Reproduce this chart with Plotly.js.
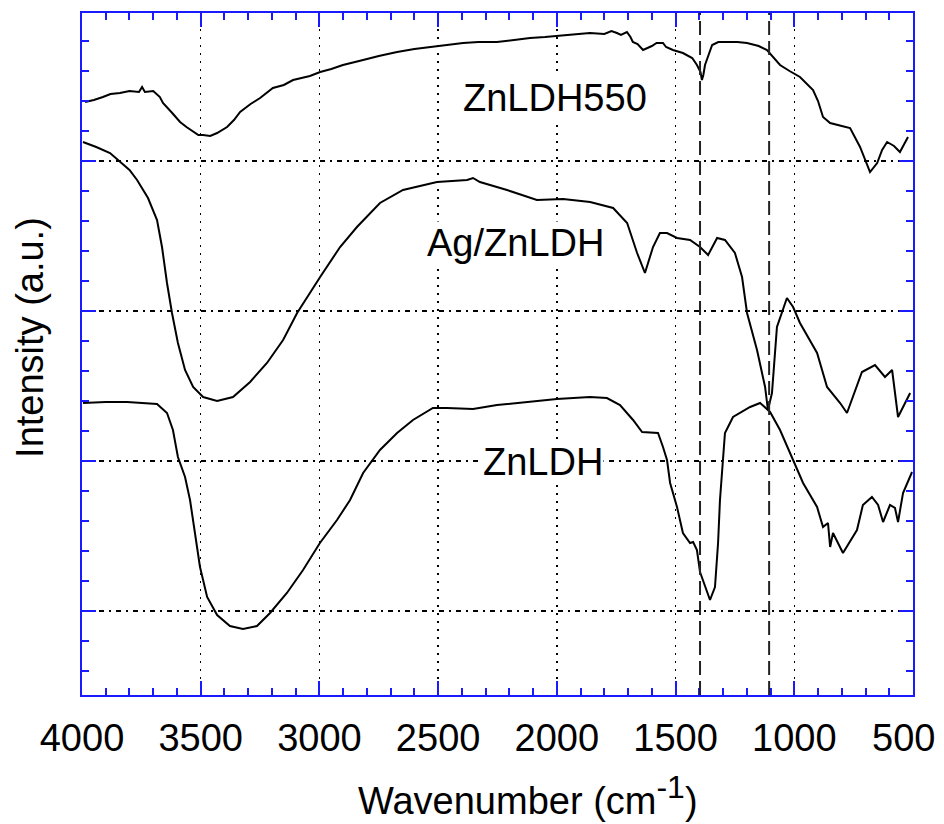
<!DOCTYPE html>
<html>
<head>
<meta charset="utf-8">
<script src="https://cdn.plot.ly/plotly-3.0.1.min.js"></script>
<style>html,body{margin:0;padding:0;background:#fff;}#chart{width:944px;height:824px;}</style>
</head>
<body>
<div id="chart"></div>
<script>
// ZnLDH550 (top spectrum)
const wnZnLDH550 = [3987,3950,3912,3880,3840,3800,3760,3747,3735,3700,3672,3659,3620,3587,3560,3532,3510,3490,3460,3431,3389,3360,3334,3290,3250,3196,3150,3111,3040,2997,2950,2901,2842,2816,2750,2673,2600,2505,2450,2395,2330,2252,2180,2113,2050,2000,1930,1861,1800,1770,1747,1730,1705,1690,1680,1660,1637,1600,1580,1553,1540,1511,1469,1430,1410,1395,1389,1383,1376,1346,1320,1283,1240,1199,1150,1115,1060,1020,976,921,900,879,849,800,765,723,681,651,630,609,580,555,535,521];
const intZnLDH550 = [5.93,5.95,5.98,6.01,6.02,6.04,6.03,6.08,6.03,6.04,5.98,5.92,5.82,5.73,5.68,5.63,5.60,5.60,5.59,5.62,5.68,5.75,5.83,5.91,5.97,6.07,6.10,6.15,6.19,6.23,6.26,6.30,6.34,6.35,6.39,6.43,6.46,6.49,6.50,6.52,6.53,6.53,6.55,6.57,6.58,6.59,6.60,6.62,6.61,6.64,6.62,6.60,6.63,6.58,6.53,6.51,6.45,6.49,6.52,6.52,6.48,6.45,6.42,6.37,6.30,6.23,6.15,6.20,6.30,6.50,6.53,6.53,6.53,6.52,6.49,6.45,6.30,6.24,6.18,6.05,5.94,5.78,5.72,5.69,5.67,5.48,5.23,5.32,5.45,5.53,5.49,5.43,5.52,5.58];

// Ag/ZnLDH (middle spectrum)
const wnAgZnLDH = [3996,3940,3882,3840,3800,3768,3722,3684,3663,3642,3621,3596,3566,3532,3490,3431,3364,3292,3221,3153,3094,2997,2913,2842,2745,2648,2505,2378,2353,2324,2210,2084,1974,1860,1763,1704,1662,1629,1595,1566,1536,1494,1439,1397,1363,1325,1292,1250,1220,1199,1157,1123,1111,1094,1073,1031,1005,976,904,862,807,778,715,660,618,588,563,512];
const intAgZnLDH = [5.53,5.48,5.42,5.33,5.25,5.15,4.97,4.75,4.48,4.12,3.82,3.52,3.25,3.08,2.98,2.94,2.98,3.13,3.32,3.55,3.82,4.18,4.48,4.68,4.92,5.05,5.13,5.15,5.17,5.13,5.05,4.95,4.96,4.93,4.87,4.72,4.42,4.22,4.48,4.62,4.62,4.57,4.55,4.48,4.40,4.57,4.55,4.42,4.18,3.82,3.45,3.08,2.85,3.02,3.68,3.97,3.88,3.72,3.42,3.08,2.92,2.82,3.23,3.30,3.18,3.25,2.78,3.02];

// ZnLDH (bottom spectrum)
const wnZnLDH = [3996,3900,3810,3740,3684,3642,3617,3596,3566,3545,3524,3503,3473,3431,3377,3322,3263,3208,3137,3069,2998,2926,2871,2816,2745,2673,2606,2522,2463,2353,2252,2113,2000,1861,1789,1734,1679,1641,1574,1553,1536,1523,1494,1469,1439,1426,1410,1397,1376,1355,1334,1321,1313,1292,1258,1186,1144,1102,1060,1009,963,904,879,858,849,837,795,736,711,673,647,626,597,576,563,542,504];
const intZnLDH = [2.92,2.93,2.93,2.92,2.91,2.82,2.65,2.38,2.18,1.95,1.62,1.28,0.98,0.80,0.69,0.66,0.69,0.82,1.02,1.25,1.52,1.75,1.95,2.22,2.45,2.62,2.75,2.87,2.87,2.86,2.90,2.93,2.96,2.98,2.97,2.90,2.75,2.63,2.62,2.48,2.35,2.12,1.88,1.62,1.52,1.53,1.45,1.23,1.08,0.95,1.08,1.52,1.95,2.62,2.78,2.88,2.92,2.83,2.65,2.38,2.12,1.88,1.68,1.72,1.48,1.62,1.42,1.65,1.90,1.98,1.90,1.73,1.90,1.87,1.73,2.02,2.23];

// Reference band positions (dashed lines), cm-1
const bandLines = [1397, 1106];

// Tick labels (the last one is drawn as a separate label, nudged inward)
const xTickVals = [4000,3500,3000,2500,2000,1500,1000,500];
const xTickText = ['4000','3500','3000','2500','2000','1500','1000',''];
const lastTickLabel = '500';

// Sample labels
const labelText = ['ZnLDH550','Ag/ZnLDH','ZnLDH'];
const labelWn = [2008, 2176, 2058];
const labelInt = [5.97, 4.52, 2.33];

const FONT = 'Liberation Sans, Arial, sans-serif';
const lineStyle = {color:'#000', width:2};
const traces = [
  {x: wnZnLDH550, y: intZnLDH550, mode:'lines', line: lineStyle, hoverinfo:'skip'},
  {x: wnAgZnLDH, y: intAgZnLDH, mode:'lines', line: lineStyle, hoverinfo:'skip'},
  {x: wnZnLDH, y: intZnLDH, mode:'lines', line: lineStyle, hoverinfo:'skip'}
];

const shapes = bandLines.map(w => ({
  type:'line', xref:'x', yref:'paper', x0:w, x1:w, y0:0, y1:1,
  line:{color:'#222', width:2, dash:'14px,6px'}
}));

const annotations = labelText.map((t,i) => ({
  x: labelWn[i], y: labelInt[i], xref:'x', yref:'y', text:t, showarrow:false,
  bgcolor:'#fff', borderpad:0,
  font:{family:FONT, size:38, color:'#000'}
}));
annotations.push({
  x: 500, y: -0.063, xref:'x', yref:'paper', text:lastTickLabel, showarrow:false,
  xanchor:'center', yanchor:'middle', xshift:-10,
  font:{family:FONT, size:38, color:'#000'}
});
annotations.push({
  x: 0.537, y: -0.147, xref:'paper', yref:'paper', showarrow:false,
  xanchor:'center', yanchor:'middle',
  text:'Wavenumber (cm<sup><span style="font-size:32px">-1</span></sup>)',
  font:{family:FONT, size:38, color:'#000'}
});
annotations.push({
  x: -0.0626, y: 0.525, xref:'paper', yref:'paper', showarrow:false,
  xanchor:'center', yanchor:'middle', textangle:-90,
  text:'Intensity (a.u.)',
  font:{family:FONT, size:38, color:'#000'}
});

const blue = '#1a1aff';
const layout = {
  width:944, height:824,
  margin:{l:82, r:31, t:13, b:129},
  paper_bgcolor:'#fff', plot_bgcolor:'#fff',
  showlegend:false,
  font:{family:FONT, size:38, color:'#000'},
  xaxis:{
    range:[4000,500], tickvals:xTickVals, ticktext:xTickText,
    ticks:'inside', ticklen:14, tickwidth:2, tickcolor:blue,
    showline:true, linecolor:blue, linewidth:2, mirror:'ticks',
    showgrid:true, gridcolor:'#000', gridwidth:1.5, griddash:'2px,6px',
    zeroline:false, ticklabelstandoff:8,
    tickfont:{size:38, color:'#000'},
    minor:{dtick:100, tick0:0, ticks:'inside', ticklen:7, tickwidth:2, tickcolor:blue, showgrid:false}
  },
  yaxis:{
    range:[0,6.82], tick0:0.84, dtick:1.5, showticklabels:false,
    ticks:'inside', ticklen:14, tickwidth:2, tickcolor:blue,
    showline:true, linecolor:blue, linewidth:2, mirror:'ticks',
    showgrid:true, gridcolor:'#000', gridwidth:1.5, griddash:'5px,5px,2px,5px',
    zeroline:false,
    minor:{dtick:0.3, tick0:0.84, ticks:'inside', ticklen:7, tickwidth:2, tickcolor:blue, showgrid:false}
  },
  shapes: shapes,
  annotations: annotations
};

Plotly.newPlot('chart', traces, layout, {displayModeBar:false, staticPlot:true});
</script>
</body>
</html>
